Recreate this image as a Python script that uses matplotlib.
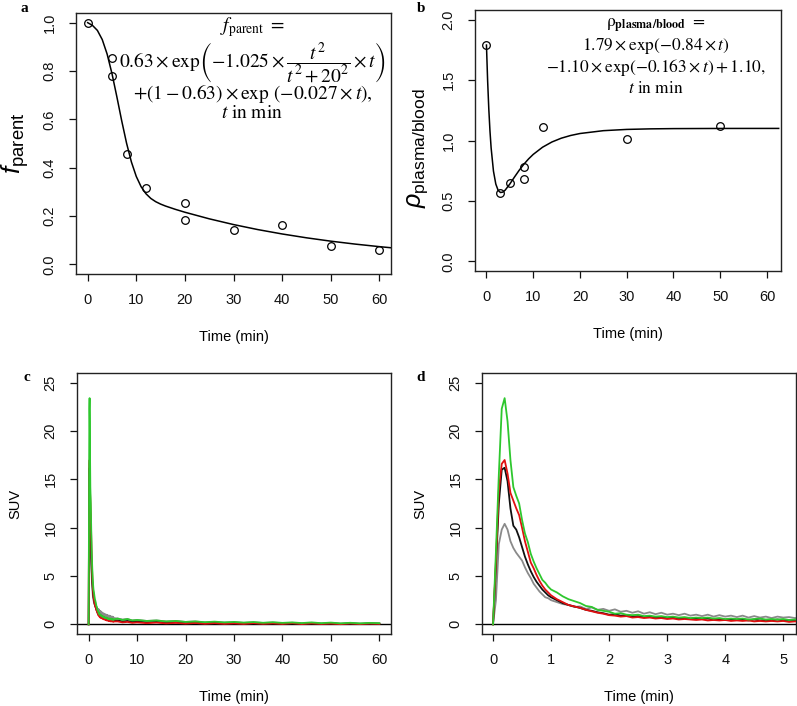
import matplotlib
matplotlib.use('Agg')
import matplotlib.pyplot as plt
import numpy as np

plt.rcParams['font.family'] = ['Liberation Sans', 'DejaVu Sans']
plt.rcParams['mathtext.fontset'] = 'custom'
plt.rcParams['mathtext.rm'] = 'Liberation Sans'
plt.rcParams['mathtext.it'] = 'Liberation Sans:italic'
plt.rcParams['mathtext.bf'] = 'Liberation Sans:bold'

# ---------------- Panel a: parent fraction ----------------
a_time = [0, 5, 5, 8, 12, 20, 20, 30, 40, 50, 60]
a_frac = [1.0, 0.855, 0.78, 0.457, 0.316, 0.252, 0.183, 0.141, 0.163, 0.076, 0.061]
a_fit_t = [0, 1, 2, 3, 4, 5, 6, 7, 8, 9, 10, 11, 12, 13, 14, 15, 16, 18, 20,
           25, 30, 35, 40, 45, 50, 55, 60, 62.5]
a_fit_v = [1.0, 0.9885, 0.9679, 0.9300, 0.8702, 0.7893, 0.6938, 0.5942, 0.5014,
           0.4234, 0.3636, 0.3209, 0.2919, 0.2725, 0.2592, 0.2493, 0.2413, 0.2278,
           0.2156, 0.1884, 0.1646, 0.1438, 0.1257, 0.1098, 0.0959, 0.0838, 0.0732,
           0.0684]

# ---------------- Panel b: plasma/blood ratio ----------------
b_time = [0, 3, 5, 8, 8, 12, 30, 50]
b_ratio = [1.788, 0.565, 0.652, 0.777, 0.685, 1.114, 1.016, 1.117]
b_fit_t = [0, 0.25, 0.5, 0.75, 1, 1.5, 2, 2.5, 3, 3.5, 4, 5, 6, 7, 8, 9, 10, 12,
           14, 16, 18, 20, 25, 30, 35, 40, 50, 62.5]
b_fit_v = [1.79, 1.4949, 1.2622, 1.0799, 0.9382, 0.7463, 0.6396, 0.5874, 0.5695,
           0.5729, 0.5891, 0.6400, 0.6979, 0.7536, 0.8036, 0.8473, 0.8849, 0.9445,
           0.9877, 1.0190, 1.0415, 1.0578, 1.0813, 1.0917, 1.0963, 1.0984, 1.0997,
           1.10]

# ---------------- Panels c/d: SUV time-activity curves ----------------
suv_time = [0, 0.05, 0.1, 0.15, 0.2, 0.25, 0.3, 0.35, 0.4, 0.45, 0.5, 0.55, 0.6,
            0.65, 0.7, 0.75, 0.8, 0.85, 0.9, 0.95, 1.0,
            1.1, 1.2, 1.3, 1.4, 1.5, 1.6, 1.7, 1.8, 1.9, 2.0,
            2.1, 2.2, 2.3, 2.4, 2.5, 2.6, 2.7, 2.8, 2.9, 3.0,
            3.1, 3.2, 3.3, 3.4, 3.5, 3.6, 3.7, 3.8, 3.9, 4.0,
            4.1, 4.2, 4.3, 4.4, 4.5, 4.6, 4.7, 4.8, 4.9, 5.0, 5.1, 5.2,
            6, 7, 8, 9, 10, 12, 14, 16, 18, 20, 22, 24, 26, 28, 30, 32, 34, 36,
            38, 40, 42, 44, 46, 48, 50, 52, 54, 56, 58, 60]

suv_green = [0, 7.5, 15.5, 22.3, 23.4, 21.0, 17.0, 14.2, 13.3, 12.5, 10.8, 9.4, 8.5,
             7.3, 6.5, 5.8, 5.2, 4.6, 4.3, 3.9, 3.6,
             3.3, 2.9, 2.6, 2.4, 2.2, 1.9, 1.8, 1.5, 1.4, 1.3,
             1.1, 1.15, 1.0, 0.95, 1.0, 0.85, 0.9, 0.8, 0.85, 0.75,
             0.8, 0.7, 0.75, 0.65, 0.7, 0.65, 0.7, 0.6, 0.65, 0.55,
             0.6, 0.55, 0.6, 0.5, 0.55, 0.6, 0.5, 0.55, 0.5, 0.55, 0.45, 0.5,
             0.6, 0.45, 0.55, 0.4, 0.45, 0.35, 0.4, 0.3, 0.35, 0.25, 0.3, 0.22, 0.28,
             0.2, 0.25, 0.18, 0.24, 0.16, 0.22, 0.15, 0.2, 0.13, 0.2, 0.12, 0.18, 0.1,
             0.16, 0.1, 0.15, 0.12]

suv_red = [0, 6.5, 13.9, 16.6, 17.0, 15.6, 13.6, 12.8, 12.0, 11.3, 10.0, 8.6, 7.5,
           6.4, 5.8, 5.1, 4.5, 4.0, 3.6, 3.3, 3.0,
           2.6, 2.3, 2.0, 1.85, 1.7, 1.5, 1.35, 1.2, 1.1, 0.95,
           0.9, 0.8, 0.85, 0.7, 0.75, 0.65, 0.7, 0.6, 0.65, 0.55,
           0.6, 0.5, 0.55, 0.5, 0.45, 0.5, 0.4, 0.45, 0.4, 0.45,
           0.35, 0.4, 0.35, 0.4, 0.3, 0.35, 0.3, 0.35, 0.3, 0.35, 0.25, 0.3,
           0.3, 0.2, 0.25, 0.15, 0.2, 0.12, 0.18, 0.1, 0.15, 0.08, 0.14, 0.06, 0.12,
           0.05, 0.1, 0.04, 0.12, 0.05, 0.1, 0.04, 0.12, 0.03, 0.1, 0.04, 0.08, 0.02,
           0.09, 0.03, 0.08, 0.05]

suv_black = [0, 6.0, 12.5, 16.0, 16.2, 14.8, 12.0, 10.2, 9.8, 9.0, 8.0, 7.0, 6.2,
             5.5, 4.9, 4.4, 4.0, 3.6, 3.3, 3.0, 2.8,
             2.5, 2.2, 2.0, 1.85, 1.7, 1.5, 1.4, 1.25, 1.15, 1.0,
             1.05, 0.9, 0.95, 0.8, 0.85, 0.75, 0.8, 0.7, 0.75, 0.65,
             0.7, 0.6, 0.65, 0.55, 0.6, 0.55, 0.6, 0.5, 0.55, 0.45,
             0.55, 0.45, 0.5, 0.4, 0.5, 0.4, 0.45, 0.4, 0.5, 0.4, 0.45, 0.4,
             0.4, 0.3, 0.35, 0.25, 0.3, 0.2, 0.25, 0.15, 0.2, 0.12, 0.18, 0.1, 0.15,
             0.08, 0.14, 0.08, 0.12, 0.06, 0.12, 0.05, 0.1, 0.05, 0.1, 0.04, 0.09,
             0.04, 0.08, 0.03, 0.08, 0.05]

suv_gray = [0, 2.5, 8.3, 9.8, 10.4, 9.8, 8.6, 7.9, 7.4, 7.0, 6.6, 5.9, 5.3,
            4.8, 4.2, 3.8, 3.4, 3.1, 2.8, 2.7, 2.5,
            2.3, 2.1, 2.0, 1.8, 1.85, 1.6, 1.75, 1.5, 1.6, 1.4,
            1.55, 1.3, 1.4, 1.2, 1.35, 1.1, 1.25, 1.05, 1.2, 1.0,
            1.1, 0.95, 1.1, 0.9, 1.0, 0.85, 1.0, 0.8, 0.95, 0.8,
            0.9, 0.75, 0.9, 0.7, 0.85, 0.7, 0.8, 0.65, 0.8, 0.7, 0.75, 0.65,
            0.6, 0.5, 0.55, 0.4, 0.45, 0.35, 0.4, 0.3, 0.35, 0.25, 0.3, 0.2, 0.25,
            0.18, 0.22, 0.15, 0.2, 0.14, 0.18, 0.12, 0.16, 0.1, 0.15, 0.1, 0.14, 0.08,
            0.13, 0.08, 0.12, 0.1]

col_green = '#2ec72e'
col_red = '#e01010'
col_black = '#111111'
col_gray = '#8a8a8a'

W, H = 797, 706
fig = plt.figure(figsize=(W / 100, H / 100), dpi=100)


def add_ax(left, top, right, bottom):
    return fig.add_axes([left / W, 1 - bottom / H, (right - left) / W, (bottom - top) / H])


def style(ax):
    for s in ax.spines.values():
        s.set_linewidth(1.0)
        s.set_color('#222222')
    ax.tick_params(direction='out', length=5, width=0.9, labelsize=10.5, colors='#111111')
    ax.tick_params(axis='x', pad=9)
    ax.tick_params(axis='y', pad=9, labelrotation=90)
    plt.setp(ax.get_yticklabels(), va='center')


axa = add_ax(76, 13, 391, 274)
axb = add_ax(475, 10, 781, 271)
axc = add_ax(77, 373, 391, 634)
axd = add_ax(482, 373, 796, 634)

# Panel a
axa.plot(a_fit_t, a_fit_v, color='black', lw=1.1, zorder=2)
axa.plot(a_time, a_frac, 'o', mfc='none', mec='black', ms=5.5, mew=0.9, zorder=3)
axa.set_xlim(-2.4, 62.4)
axa.set_ylim(-0.04, 1.04)
axa.set_xticks([0, 10, 20, 30, 40, 50, 60])
axa.set_yticks([0, 0.2, 0.4, 0.6, 0.8, 1.0])
axa.set_yticklabels(['0.0', '0.2', '0.4', '0.6', '0.8', '1.0'])
style(axa)
axa.set_xlabel('Time (min)', fontsize=10.5)
axa.xaxis.set_label_coords(0.5, -63 / 261)
axa.xaxis.label.set_va('center')
axa.set_ylabel(r'$f_{\mathrm{parent}}$', fontsize=19)
axa.yaxis.set_label_coords(-61 / 315, 0.5)
axa.yaxis.label.set_va('center')
fa = dict(transform=axa.transAxes, ha='center', va='center', fontsize=14,
          math_fontfamily='stix')
axa.text(0.56, 0.946, r'$f_{\mathrm{parent}}\ =$', **fa)
axa.text(0.56, 0.81, r'$0.63\times\mathrm{exp}\left(-1.025\times\dfrac{t^2}{t^2+20^2}\times t\right)$', **fa)
axa.text(0.56, 0.69, r'$+(1-0.63)\times\mathrm{exp}\ (-0.027\times t),$', **fa)
axa.text(0.56, 0.615, r'$t\ \mathrm{in\ min}$', **fa)

# Panel b
axb.plot(b_fit_t, b_fit_v, color='black', lw=1.1, zorder=2)
axb.plot(b_time, b_ratio, 'o', mfc='none', mec='black', ms=5.5, mew=0.9, zorder=3)
axb.set_xlim(-2.45, 63.0)
axb.set_ylim(-0.08, 2.08)
axb.set_xticks([0, 10, 20, 30, 40, 50, 60])
axb.set_yticks([0, 0.5, 1.0, 1.5, 2.0])
axb.set_yticklabels(['0.0', '0.5', '1.0', '1.5', '2.0'])
style(axb)
axb.set_xlabel('Time (min)', fontsize=10.5)
axb.xaxis.set_label_coords(0.5, -63 / 261)
axb.xaxis.label.set_va('center')
axb.set_ylabel(r'$\rho_{\mathrm{plasma/blood}}$', fontsize=18)
axb.yaxis.set_label_coords(-57 / 306, 0.47)
axb.yaxis.label.set_va('center')
fb = dict(transform=axb.transAxes, ha='center', va='center', fontsize=12.5,
          math_fontfamily='stix')
axb.text(0.59, 0.940, r'$\mathrm{\rho}_{\mathbf{plasma/blood}}\ =$', **fb)
axb.text(0.59, 0.862, r'$1.79\times\mathrm{exp}(-0.84\times t)$', **fb)
axb.text(0.59, 0.780, r'$-1.10\times\mathrm{exp}(-0.163\times t)+1.10,$', **fb)
axb.text(0.59, 0.700, r'$t\ \mathrm{in\ min}$', **fb)

# Panels c and d
for ax in (axc, axd):
    ax.axhline(0, color='black', lw=1.0, zorder=1)
    ax.plot(suv_time, suv_gray, color=col_gray, lw=1.3, zorder=2)
    ax.plot(suv_time, suv_black, color=col_black, lw=1.3, zorder=3)
    ax.plot(suv_time, suv_red, color=col_red, lw=1.3, zorder=4)
    ax.plot(suv_time, suv_green, color=col_green, lw=1.3, zorder=5)
    ax.set_ylim(-1, 26)
    ax.set_yticks([0, 5, 10, 15, 20, 25])
    style(ax)
    ax.set_xlabel('Time (min)', fontsize=10.5)
    ax.xaxis.set_label_coords(0.5, -63 / 261)
    ax.xaxis.label.set_va('center')
    ax.set_ylabel('SUV', fontsize=10.5)
    ax.yaxis.set_label_coords(-62 / 314, 0.5)
    ax.yaxis.label.set_va('center')

axc.set_xlim(-2.4, 62.4)
axc.set_xticks([0, 10, 20, 30, 40, 50, 60])
axd.set_xlim(-0.19, 5.22)
axd.set_xticks([0, 1, 2, 3, 4, 5])
for ax in (axc, axd):
    plt.setp(ax.get_yticklabels(), va='center', rotation=90)

# Panel letters
lt = dict(fontsize=11, fontweight='bold', family='Liberation Serif', ha='center', va='center')
fig.text(24 / W, 1 - 8 / H, 'a', **lt)
fig.text(421 / W, 1 - 8 / H, 'b', **lt)
fig.text(27 / W, 1 - 377 / H, 'c', **lt)
fig.text(421 / W, 1 - 377 / H, 'd', **lt)

fig.savefig('out.png', dpi=100)
